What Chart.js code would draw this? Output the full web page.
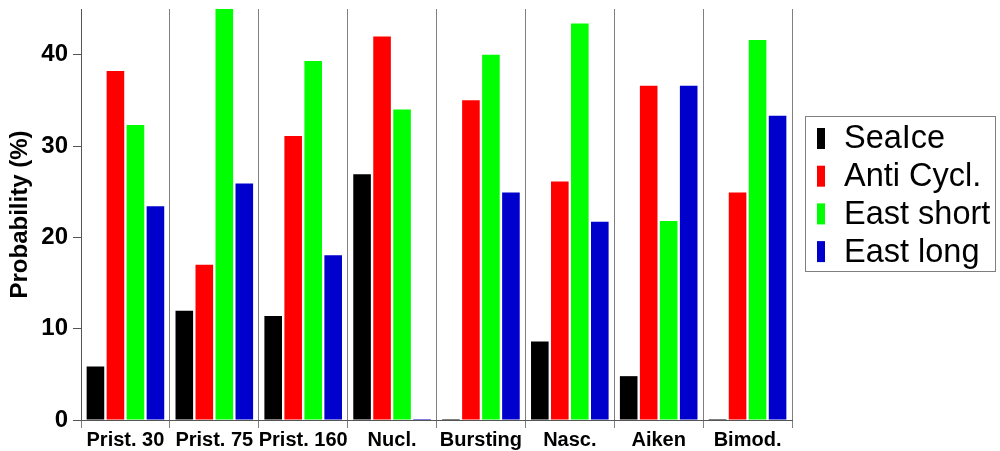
<!DOCTYPE html>
<html>
<head>
<meta charset="utf-8">
<title>Probability by regime</title>
<script src="https://cdn.jsdelivr.net/npm/chart.js@4/dist/chart.umd.min.js"></script>
<style>
    html, body { margin: 0; padding: 0; background: #fff; }
    #wrap { width: 1000px; height: 451px; position: relative; }
</style>
</head>
<body>
<div id="wrap"><canvas id="prob-chart"></canvas></div>
<script>
// Categories and series
const categories = ['Prist. 30', 'Prist. 75', 'Prist. 160', 'Nucl.', 'Bursting', 'Nasc.', 'Aiken', 'Bimod.'];

const seaIce     = [5.85, 11.95, 11.4, 26.9, 0, 8.6, 4.8, 0];
const antiCycl   = [38.2, 17.0, 31.1, 42.0, 35.0, 26.1, 36.6, 24.9];
const eastShort  = [32.3, 46.0, 39.3, 34.0, 40.0, 43.4, 21.8, 41.6];
const eastLong   = [23.4, 25.9, 18.05, 0, 24.9, 21.7, 36.6, 33.3];

const seriesLabels = ['SeaIce', 'Anti Cycl.', 'East short', 'East long'];
const seriesColors = ['#000000', '#ff0000', '#00ff00', '#0000cc'];

const yTicks = [0, 10, 20, 30, 40];

const FONT = '"Liberation Sans", Arial, sans-serif';

// Framed legend on the right, drawn by hand so it can carry a border
const framedLegend = {
    id: 'framedLegend',
    afterDraw(chart) {
        const ctx = chart.ctx;
        const area = chart.chartArea;
        const boxLeft = area.right + 13;
        const boxTop = 116;
        const rowGap = 37.7;

        ctx.save();
        ctx.strokeStyle = '#7f7f7f';
        ctx.lineWidth = 1;
        ctx.strokeRect(boxLeft + 0.5, boxTop + 0.5, 190, 155);

        ctx.font = '32.5px ' + FONT;
        ctx.textBaseline = 'middle';
        ctx.textAlign = 'left';

        chart.data.datasets.forEach((ds, i) => {
            const cy = boxTop + 22.5 + i * rowGap;
            ctx.fillStyle = ds.backgroundColor;
            ctx.fillRect(boxLeft + 12, cy - 10.5, 8, 21);
            ctx.fillStyle = '#000';
            ctx.fillText(ds.label, boxLeft + 39, cy + 1);
        });
        ctx.restore();
    }
};

function createChart() {
    const canvas = document.getElementById('prob-chart');
    if (!canvas) {
        console.warn('chart canvas not found');
        return;
    }

    const values = [seaIce, antiCycl, eastShort, eastLong];

    return new Chart(canvas.getContext('2d'), {
        type: 'bar',
        data: {
            labels: categories,
            datasets: values.map((data, i) => ({
                label: seriesLabels[i],
                data: data,
                backgroundColor: seriesColors[i],
                borderWidth: 0,
                minBarLength: 1,
                categoryPercentage: 0.9,
                barPercentage: 0.88
            }))
        },
        options: {
            responsive: true,
            maintainAspectRatio: false,
            animation: false,
            layout: {
                padding: { top: 9, right: 208, left: 0, bottom: 0 }
            },
            plugins: {
                legend: { display: false },
                tooltip: { enabled: false }
            },
            scales: {
                x: {
                    offset: true,
                    grid: {
                        display: true,
                        offset: true,
                        drawOnChartArea: true,
                        drawTicks: true,
                        tickLength: 8,
                        color: '#808080',
                        lineWidth: 1
                    },
                    border: { display: true, color: '#555', width: 1 },
                    ticks: {
                        color: '#000',
                        padding: 0,
                        maxRotation: 0,
                        autoSkip: false,
                        font: { family: FONT, size: 20, weight: 'bold' }
                    },
                    afterFit: scale => {
                        scale.height = 31;
                        scale.paddingLeft = 0;
                        scale.paddingRight = 0;
                    }
                },
                y: {
                    min: 0,
                    max: 45,
                    afterBuildTicks: scale => {
                        scale.ticks = yTicks.map(v => ({ value: v }));
                    },
                    grid: {
                        display: true,
                        drawOnChartArea: false,
                        drawTicks: true,
                        tickLength: 8,
                        color: '#555'
                    },
                    border: { display: true, color: '#555', width: 1 },
                    ticks: {
                        color: '#000',
                        padding: 5,
                        font: { family: FONT, size: 24, weight: 'bold' }
                    },
                    title: {
                        display: true,
                        text: 'Probability (%)',
                        color: '#000',
                        padding: { top: 6, bottom: 0 },
                        font: { family: FONT, size: 24, weight: 'bold' }
                    },
                    afterFit: scale => {
                        scale.width = 81;
                        scale.paddingTop = 0;
                        scale.paddingBottom = 0;
                    }
                }
            }
        },
        plugins: [framedLegend]
    });
}

const probChart = createChart();
</script>
</body>
</html>
